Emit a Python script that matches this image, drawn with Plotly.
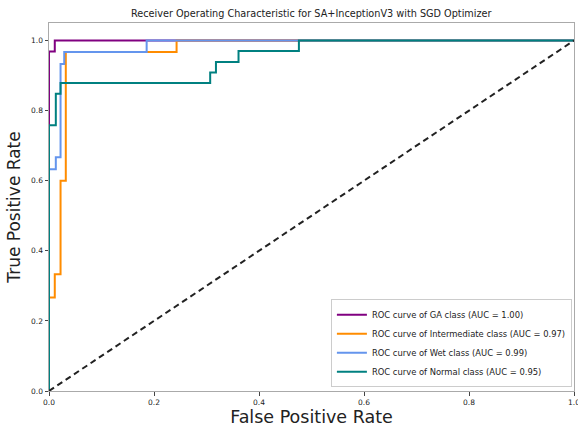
import plotly.graph_objects as go

# ROC step curves (FPR, TPR)
ga_fpr = [0.0, 0.0, 0.011, 0.011, 1.0]
ga_tpr = [0.0, 0.969, 0.969, 1.0, 1.0]

inter_fpr = [0.0, 0.0, 0.011, 0.011, 0.022, 0.022, 0.032, 0.032, 0.243, 0.243, 1.0]
inter_tpr = [0.0, 0.267, 0.267, 0.333, 0.333, 0.6, 0.6, 0.967, 0.967, 1.0, 1.0]

wet_fpr = [0.0, 0.0, 0.013, 0.013, 0.022, 0.022, 0.029, 0.029, 0.186, 0.186, 1.0]
wet_tpr = [0.0, 0.633, 0.633, 0.667, 0.667, 0.933, 0.933, 0.967, 0.967, 1.0, 1.0]

normal_fpr = [0.0, 0.0, 0.013, 0.013, 0.022, 0.022, 0.307, 0.307, 0.318, 0.318,
              0.361, 0.361, 0.476, 0.476, 1.0]
normal_tpr = [0.0, 0.758, 0.758, 0.848, 0.848, 0.879, 0.879, 0.909, 0.909, 0.939,
              0.939, 0.970, 0.970, 1.0, 1.0]

labels = ["ROC curve of GA class (AUC = 1.00)",
          "ROC curve of Intermediate class (AUC = 0.97)",
          "ROC curve of Wet class (AUC = 0.99)",
          "ROC curve of Normal class (AUC = 0.95)"]
colors = ["#800080", "#FF8C00", "#6495ED", "#008080"]
series = [(ga_fpr, ga_tpr), (inter_fpr, inter_tpr), (wet_fpr, wet_tpr), (normal_fpr, normal_tpr)]

diag = [0.0, 1.0]
tick_vals = [0, 0.2, 0.4, 0.6, 0.8, 1.0]
tick_text = ["0.0", "0.2", "0.4", "0.6", "0.8", "1.0"]

fig = go.Figure()
for (xs, ys), name, c in zip(series, labels, colors):
    fig.add_trace(go.Scatter(x=xs, y=ys, mode="lines", name=name,
                             line=dict(color=c, width=2)))
fig.add_trace(go.Scatter(x=diag, y=diag, mode="lines", showlegend=False,
                         line=dict(color="#222222", width=2, dash="6px,4px")))

font = "DejaVu Sans"
fig.update_layout(
    width=578, height=429,
    margin=dict(l=49, r=4, t=23, b=38, autoexpand=False),
    paper_bgcolor="white", plot_bgcolor="white",
    font=dict(family=font, color="#222222", size=8),
    title=dict(text="Receiver Operating Characteristic for SA+InceptionV3 with SGD Optimizer",
               x=0.5385, xanchor="center", y=0.968, yanchor="middle",
               font=dict(size=9.7, family=font, color="#222222")),
    legend=dict(x=0.996, y=0.01, xanchor="right", yanchor="bottom",
                bgcolor="white", bordercolor="#cccccc", borderwidth=1,
                font=dict(size=8.4, family=font, color="#222222"),
                tracegroupgap=0, itemwidth=30),
    showlegend=True,
)
fig.update_xaxes(range=[0, 1], tickvals=tick_vals, ticktext=tick_text,
                 showgrid=False, zeroline=False, showline=True, linecolor="#aaaaaa",
                 linewidth=1, mirror=True, ticks="outside", ticklen=3.5,
                 tickcolor="#444444", tickfont=dict(size=7.5),
                 ticklabeloverflow="allow", automargin=False,
                 title=dict(text="False Positive Rate", font=dict(size=17.5, family=font),
                            standoff=5))
fig.update_yaxes(range=[0, 1.05], tickvals=tick_vals, ticktext=tick_text,
                 showgrid=False, zeroline=False, showline=True, linecolor="#aaaaaa",
                 linewidth=1, mirror=True, ticks="outside", ticklen=3.5,
                 tickcolor="#444444", tickfont=dict(size=7.5), automargin=False,
                 title=dict(text="True Positive Rate", font=dict(size=17, family=font),
                            standoff=6))
fig.write_html("out.html")
